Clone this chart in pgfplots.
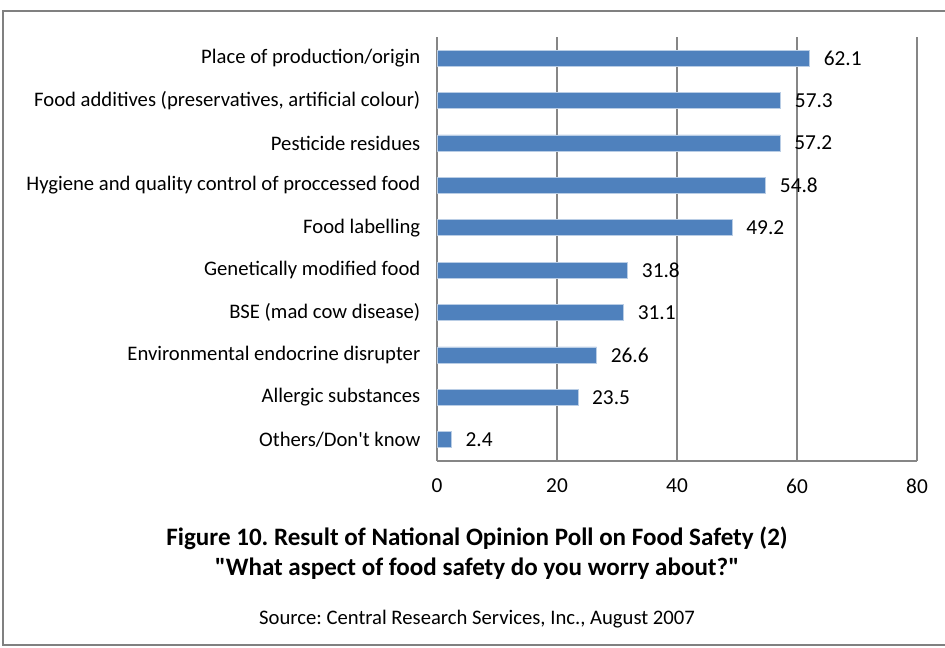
\documentclass[border=0pt]{standalone}
\usepackage{pgfplots}
\pgfplotsset{compat=1.18}
\usepackage{fontspec}
\setmainfont{Carlito}[Ligatures=TeXOff]
\frenchspacing
\definecolor{barblue}{RGB}{79,129,189}
\definecolor{baredge}{RGB}{185,205,229}
\definecolor{gridgray}{RGB}{134,134,134}
\definecolor{framegray}{RGB}{128,128,128}
\pgfplotstableread[col sep=semicolon]{
y;v;lab
0;62.1;62.1
1;57.3;57.3
2;57.2;57.2
3;54.8;54.8
4;49.2;49.2
5;31.8;31.8
6;31.1;31.1
7;26.6;26.6
8;23.5;23.5
9;2.4;2.4
}\datatable
\begin{document}
\begin{tikzpicture}
\useasboundingbox (0,0) rectangle (708.75pt,-486pt);
\draw[framegray, line width=1.1pt] (708.75pt,-8.25pt) -- (2.25pt,-8.25pt) -- (2.25pt,-483.75pt) -- (708.75pt,-483.75pt);
\begin{axis}[
  at={(327.75pt,-345.75pt)}, anchor=south west,
  scale only axis, width=360pt, height=318pt,
  xbar, bar width=0.38,
  xmin=0, xmax=80, ymin=-0.5, ymax=9.5, y dir=reverse,
  xtick={0,20,40,60,80},
  ytick={0,...,9},
  yticklabels={{Place of production/origin},{Food additives (preservatives, artificial colour)},{Pesticide residues},{Hygiene and quality control of proccessed food},{Food labelling},{Genetically modified food},{BSE (mad cow disease)},{Environmental endocrine disrupter},{Allergic substances},{Others/Don't know}},
  major tick length=0pt,
  axis x line*=bottom, axis y line*=left,
  axis line style={draw=gridgray, line width=0.8pt, -},
  xmajorgrids, major grid style={draw=gridgray, line width=0.8pt},
  ymajorgrids=false,
  tick label style={font=\fontsize{15.5pt}{18pt}\selectfont},
  /pgf/number format/assume math mode=true,
  xticklabel style={yshift=-10pt, font=\fontsize{16pt}{18pt}\selectfont},
  yticklabel style={xshift=-9pt},
  nodes near coords, point meta=explicit symbolic,
  every node near coord/.append style={font=\fontsize{16pt}{18pt}\selectfont, anchor=west, xshift=7pt, text=black},
  clip=false,
]
\addplot[fill=barblue, draw=baredge, line width=0.6pt] table[x=v, y=y, meta=lab] {\datatable};
\end{axis}
\node[font=\bfseries\fontsize{18.8pt}{22pt}\selectfont] at (357.75pt,-403.9pt) {Figure 10. Result of National Opinion Poll on Food Safety (2)};
\node[font=\bfseries\fontsize{18.8pt}{22pt}\selectfont] at (357.75pt,-426.6pt) {"What aspect of food safety do you worry about?"};
\node[font=\fontsize{15.5pt}{18pt}\selectfont] at (357.75pt,-464pt) {Source: Central Research Services, Inc., August 2007};
\end{tikzpicture}
\end{document}
